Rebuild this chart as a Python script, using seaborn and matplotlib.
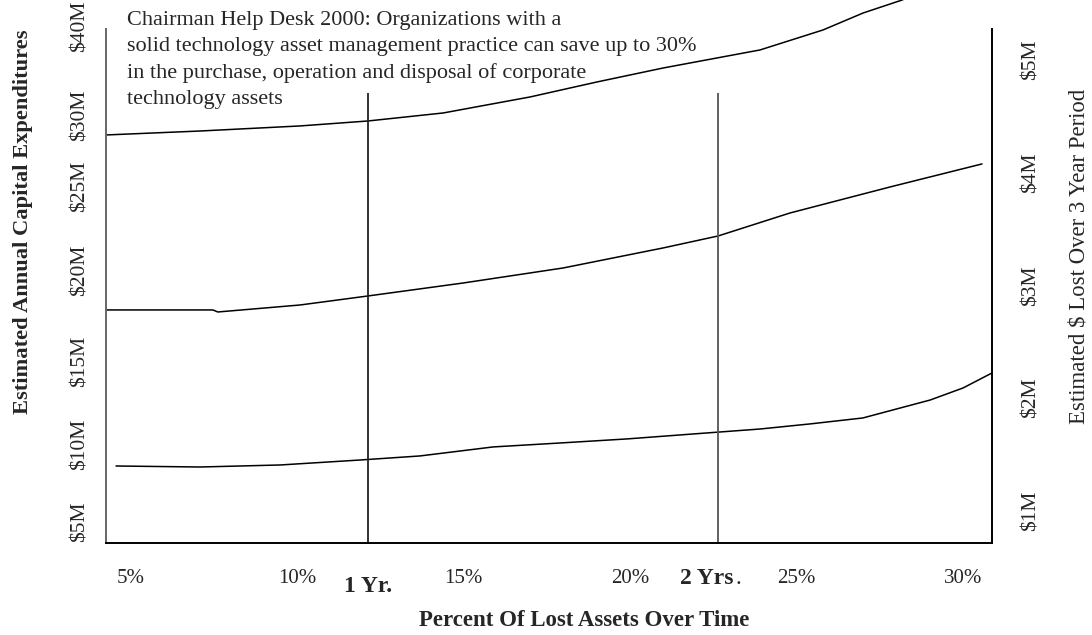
import matplotlib
matplotlib.use("Agg")
import matplotlib.pyplot as plt
import matplotlib.transforms as mtransforms
import numpy as np
import pandas as pd
import seaborn as sns

# ---------------- data ----------------
# x: percent of lost assets; y: estimated $ lost (right-axis $M units)
top_x = [4.25, 7.07, 10.08, 12.12, 14.38, 16.99, 19.00, 20.99, 23.90, 25.79, 27.00, 28.17, 29.31]
top_y = [4.335, 4.370, 4.415, 4.459, 4.530, 4.672, 4.805, 4.929, 5.089, 5.266, 5.417, 5.532, 5.692]

mid_x = [4.25, 7.46, 7.61, 10.08, 12.12, 14.98, 17.98, 20.99, 22.64, 24.80, 27.81, 30.57]
mid_y = [2.783, 2.783, 2.765, 2.827, 2.907, 3.022, 3.155, 3.333, 3.439, 3.643, 3.874, 4.078]

low_x = [4.55, 7.07, 9.48, 11.88, 13.68, 15.88, 17.89, 19.90, 21.89, 23.90, 25.40, 26.99, 29.01, 30.00, 30.87]
low_y = [1.399, 1.390, 1.408, 1.452, 1.488, 1.568, 1.603, 1.639, 1.683, 1.727, 1.772, 1.825, 1.984, 2.091, 2.224]

x_ticks = [5, 10, 15, 20, 25, 30]
x_tick_labels = ["5%", "10%", "15%", "20%", "25%", "30%"]

left_tick_labels = ["$5M", "$10M", "$15M", "$20M", "$25M", "$30M", "$40M"]
left_tick_pos = [0.902, 1.594, 2.330, 3.137, 3.882, 4.512, 5.295]

right_ticks = [1, 2, 3, 4, 5]
right_tick_labels = ["$1M", "$2M", "$3M", "$4M", "$5M"]

year_x = [12.12, 22.64]
year_top = 4.707

note = ("Chairman Help Desk 2000: Organizations with a\n"
        "solid technology asset management practice can save up to 30%\n"
        "in the purchase, operation and disposal of corporate\n"
        "technology assets")

# ---------------- style ----------------
sns.set_theme(style="white")
plt.rcParams["font.family"] = ["Liberation Serif", "DejaVu Serif"]

W, H = 1092, 635
fig = plt.figure(figsize=(W / 100, H / 100), dpi=100)
ax = fig.add_axes([106 / W, (H - 543) / H, 886 / W, 543 / H])

XMIN, XMAX = 4.249, 30.87
YMIN, YMAX = 0.716, 5.532
SPINE_TOP = 5.275

df = pd.concat([
    pd.DataFrame({"x": top_x, "y": top_y, "s": "top"}),
    pd.DataFrame({"x": mid_x, "y": mid_y, "s": "mid"}),
    pd.DataFrame({"x": low_x, "y": low_y, "s": "low"}),
])
sns.lineplot(data=df, x="x", y="y", hue="s", palette=["black"] * 3,
             estimator=None, sort=False, legend=False, linewidth=1.1, ax=ax)

ax.vlines(year_x, YMIN, year_top, colors=["#222222", "#555555"], linewidth=1.3)

ax.set_xlim(XMIN, XMAX)
ax.set_ylim(YMIN, YMAX)
ax.set_xlabel("")
ax.set_ylabel("")

ax.spines["top"].set_visible(False)
ax.spines["left"].set_bounds(YMIN, SPINE_TOP)
ax.spines["left"].set_color("#666666")
ax.spines["right"].set_bounds(YMIN, SPINE_TOP)
ax.spines["right"].set_color("black")
ax.spines["bottom"].set_color("black")
for s in ["left", "right", "bottom"]:
    ax.spines[s].set_linewidth(1.4)

ax.set_xticks(x_ticks)
ax.set_xticklabels(x_tick_labels, fontsize=15)
ax.tick_params(axis="x", length=0, pad=19)

ax.set_yticks(left_tick_pos)
ax.set_yticklabels(left_tick_labels, fontsize=15.5, rotation=90, va="center")
ax.tick_params(axis="y", length=0, pad=12)

ax2 = ax.twinx()
ax2.set_ylim(YMIN, YMAX)
ax2.set_yticks(right_ticks)
ax2.set_yticklabels(right_tick_labels, fontsize=15.5, rotation=90, va="center")
ax2.tick_params(axis="y", length=0, pad=21)
for s in ax2.spines.values():
    s.set_visible(False)

# year labels under the vertical lines
trans = mtransforms.blended_transform_factory(ax.transData, fig.transFigure)
ax.text(year_x[0], 1 - 586 / H, "1 Yr.", transform=trans, ha="center", va="center",
        fontsize=17, fontweight="bold")
t2 = ax.text(year_x[1] - 0.35, 1 - 578 / H, "2 Yrs", transform=trans, ha="center", va="center",
             fontsize=17, fontweight="bold")
ax.annotate(".", xy=(1, 0), xycoords=t2, xytext=(1.5, 0), textcoords="offset points",
            ha="left", va="bottom", fontsize=17)

fig.text(127 / W, 1 - 11 / H, note, ha="left", va="top", fontsize=16, linespacing=1.5)

fig.text(584 / W, 1 - 621 / H, "Percent Of Lost Assets Over Time", ha="center", va="center",
         fontsize=16.5, fontweight="bold")
fig.text(23 / W, 1 - 222 / H, "Estimated Annual Capital Expenditures", ha="center", va="center",
         rotation=90, fontsize=16.2, fontweight="bold")
fig.text(1079 / W, 1 - 256 / H, "Estimated $ Lost Over 3 Year Period", ha="center", va="center",
         rotation=90, fontsize=16.4)

fig.savefig("out.png", dpi=100)
